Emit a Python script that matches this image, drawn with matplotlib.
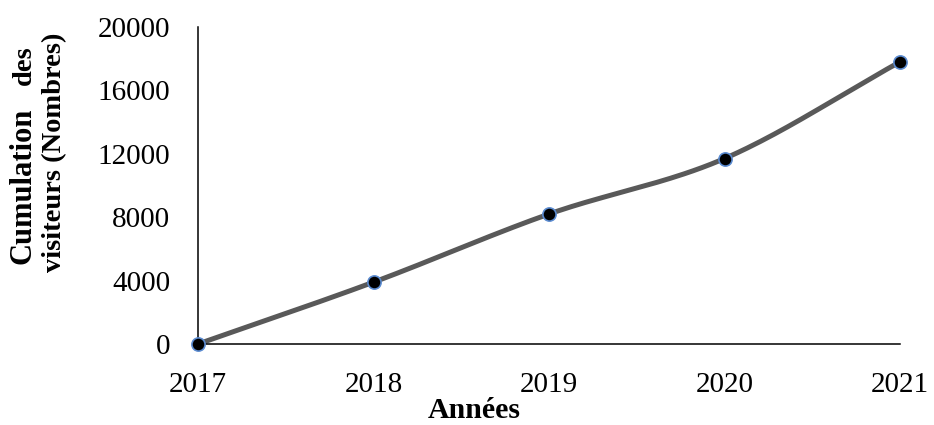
import numpy as np
import matplotlib
matplotlib.use("Agg")
import matplotlib.pyplot as plt

years = [2017, 2018, 2019, 2020, 2021]
visitors = [0, 3900, 8200, 11700, 17800]
y_ticks = [0, 4000, 8000, 12000, 16000, 20000]

plt.rcParams['font.family'] = ['Liberation Serif', 'DejaVu Serif']

fig = plt.figure(figsize=(9.34, 4.25), dpi=100)
ax = fig.add_axes([0.212, 0.1906, 0.7516, 0.7459])

# smooth curve (Catmull-Rom through the data points, like Excel smoothed line)
xs = np.array(years, dtype=float)
ys = np.array(visitors, dtype=float)
px = np.concatenate([[2 * xs[0] - xs[1]], xs, [2 * xs[-1] - xs[-2]]])
py = np.concatenate([[2 * ys[0] - ys[1]], ys, [2 * ys[-1] - ys[-2]]])
cx, cy = [], []
t = np.linspace(0, 1, 40)
for i in range(1, len(px) - 2):
    p0, p1, p2, p3 = [np.array([px[j], py[j]]) for j in range(i - 1, i + 3)]
    for tt in t:
        pt = 0.5 * ((2 * p1) + (-p0 + p2) * tt + (2 * p0 - 5 * p1 + 4 * p2 - p3) * tt**2
                    + (-p0 + 3 * p1 - 3 * p2 + p3) * tt**3)
        cx.append(pt[0]); cy.append(pt[1])
ax.plot(cx, cy, color='#595959', lw=3.6, solid_capstyle='round', zorder=2, clip_on=False)
ax.plot(years, visitors, linestyle='none', marker='o', markersize=9.5,
        markerfacecolor='black', markeredgecolor='#5b8bd0', markeredgewidth=1.2,
        zorder=3, clip_on=False)

ax.set_xlim(2017, 2021)
ax.set_ylim(0, 20000)
ax.set_xticks(years)
ax.set_xticklabels([str(y) for y in years])
ax.set_yticks(y_ticks)
ax.set_yticklabels([str(v) for v in y_ticks])
ax.tick_params(axis='both', length=0, labelsize=21)
ax.tick_params(axis='y', pad=20)
ax.tick_params(axis='x', pad=20.5)
for s in ['top', 'right']:
    ax.spines[s].set_visible(False)
for s in ['left', 'bottom']:
    ax.spines[s].set_linewidth(1.1)
    ax.spines[s].set_color('black')

fig.text(0.5075, 0.035, 'Années', ha='center', va='center', fontsize=21.5, fontweight='bold')
fig.text(0.025, 0.5635, 'Cumulation', rotation=90, ha='center', va='center',
         fontsize=22, fontweight='bold')
fig.text(0.026, 0.846, 'des', rotation=90, ha='center', va='center',
         fontsize=20.5, fontweight='bold')
fig.text(0.058, 0.642, 'visiteurs (Nombres)', rotation=90, ha='center', va='center',
         fontsize=20.5, fontweight='bold')

fig.savefig('out.png', dpi=100)
